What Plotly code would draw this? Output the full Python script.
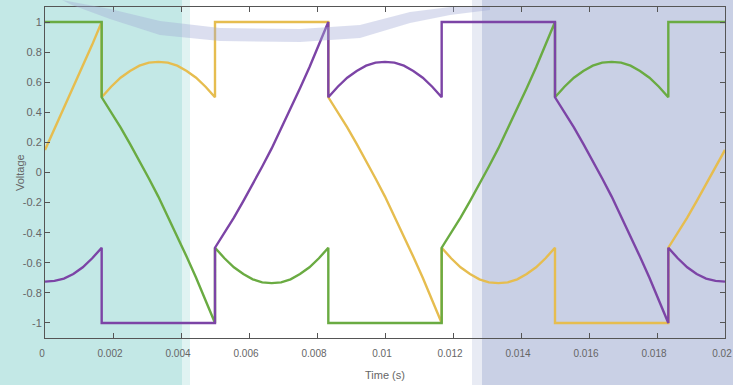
import plotly.graph_objects as go

# Sample times (s); boundary instants repeated so the steps draw as vertical edges
time_s = [0, 0.000278, 0.000556, 0.000833, 0.001111, 0.001389, 0.001667,
          0.001667, 0.001944, 0.002222, 0.0025, 0.002778, 0.003056, 0.003333,
          0.003611, 0.003889, 0.004167, 0.004444, 0.004722, 0.005,
          0.005, 0.005278, 0.005556, 0.005833, 0.006111, 0.006389, 0.006667,
          0.006944, 0.007222, 0.0075, 0.007778, 0.008056, 0.008333,
          0.008333, 0.008611, 0.008889, 0.009167, 0.009444, 0.009722, 0.01,
          0.010278, 0.010556, 0.010833, 0.011111, 0.011389, 0.011667,
          0.011667, 0.011944, 0.012222, 0.0125, 0.012778, 0.013056, 0.013333,
          0.013611, 0.013889, 0.014167, 0.014444, 0.014722, 0.015,
          0.015, 0.015278, 0.015556, 0.015833, 0.016111, 0.016389, 0.016667,
          0.016944, 0.017222, 0.0175, 0.017778, 0.018056, 0.018333,
          0.018333, 0.018611, 0.018889, 0.019167, 0.019444, 0.019722, 0.02]

v_yellow = ([0.15, 0.29, 0.42, 0.56, 0.70, 0.85, 1.00]
            + [0.50, 0.57, 0.63, 0.675, 0.71, 0.73, 0.735, 0.73, 0.71, 0.675, 0.63, 0.57, 0.50]
            + [1, 1, 1, 1, 1, 1, 1, 1, 1, 1, 1, 1, 1]
            + [0.50, 0.40, 0.30, 0.19, 0.08, -0.04, -0.16, -0.29, -0.42, -0.56, -0.70, -0.85, -1.00]
            + [-0.50, -0.57, -0.63, -0.675, -0.71, -0.73, -0.735, -0.73, -0.71, -0.675, -0.63, -0.57, -0.50]
            + [-1, -1, -1, -1, -1, -1, -1, -1, -1, -1, -1, -1, -1]
            + [-0.50, -0.40, -0.30, -0.19, -0.08, 0.04, 0.15])

v_green = ([1, 1, 1, 1, 1, 1, 1]
           + [0.50, 0.40, 0.30, 0.19, 0.08, -0.04, -0.16, -0.29, -0.42, -0.56, -0.70, -0.85, -1.00]
           + [-0.50, -0.57, -0.63, -0.675, -0.71, -0.73, -0.735, -0.73, -0.71, -0.675, -0.63, -0.57, -0.50]
           + [-1, -1, -1, -1, -1, -1, -1, -1, -1, -1, -1, -1, -1]
           + [-0.50, -0.40, -0.30, -0.19, -0.08, 0.04, 0.16, 0.29, 0.42, 0.56, 0.70, 0.85, 1.00]
           + [0.50, 0.57, 0.63, 0.675, 0.71, 0.73, 0.735, 0.73, 0.71, 0.675, 0.63, 0.57, 0.50]
           + [1, 1, 1, 1, 1, 1, 1])

v_purple = ([-0.725, -0.72, -0.705, -0.675, -0.63, -0.57, -0.50]
            + [-1, -1, -1, -1, -1, -1, -1, -1, -1, -1, -1, -1, -1]
            + [-0.50, -0.40, -0.30, -0.19, -0.08, 0.04, 0.16, 0.29, 0.42, 0.56, 0.70, 0.85, 1.00]
            + [0.50, 0.57, 0.63, 0.675, 0.71, 0.73, 0.735, 0.73, 0.71, 0.675, 0.63, 0.57, 0.50]
            + [1, 1, 1, 1, 1, 1, 1, 1, 1, 1, 1, 1, 1]
            + [0.50, 0.40, 0.30, 0.19, 0.08, -0.04, -0.16, -0.29, -0.42, -0.56, -0.70, -0.85, -1.00]
            + [-0.50, -0.57, -0.63, -0.675, -0.705, -0.72, -0.725])

x_ticks = [0, 0.002, 0.004, 0.006, 0.008, 0.01, 0.012, 0.014, 0.016, 0.018, 0.02]
x_tick_text = ["0", "0.002", "0.004", "0.006", "0.008", "0.01", "0.012", "0.014", "0.016", "0.018", "0.02"]
y_ticks = [1, 0.8, 0.6, 0.4, 0.2, 0, -0.2, -0.4, -0.6, -0.8, -1]
y_tick_text = ["1", "0.8", "0.6", "0.4", "0.2", "0", "-0.2", "-0.4", "-0.6", "-0.8", "-1"]

W, H = 733, 385
ML, MR, MT, MB = 45, 8, 7, 47
PW, PH = W - ML - MR, H - MT - MB


def px(x):
    return (x - ML) / PW


def py(y):
    return (H - MB - y) / PH


FONT = "Liberation Sans Narrow, Arial Narrow, Liberation Sans, Arial, sans-serif"
GREY = "#666"

fig = go.Figure()
for vals, col in [(v_yellow, "#e6bd4f"), (v_green, "#6aab42"), (v_purple, "#7c44a6")]:
    fig.add_trace(go.Scatter(x=time_s, y=vals, mode="lines",
                             line=dict(color=col, width=2.4), showlegend=False))

shapes = [
    dict(type="rect", xref="paper", yref="paper", x0=px(0), x1=px(182), y0=py(H), y1=py(0),
         fillcolor="#c3e8e6", line_width=0, layer="below"),
    dict(type="rect", xref="paper", yref="paper", x0=px(182), x1=px(190), y0=py(H), y1=py(0),
         fillcolor="#e0f3f2", line_width=0, layer="below"),
    dict(type="rect", xref="paper", yref="paper", x0=px(472), x1=px(482), y0=py(H), y1=py(0),
         fillcolor="#e8ebf4", line_width=0, layer="below"),
    dict(type="rect", xref="paper", yref="paper", x0=px(482), x1=px(W), y0=py(H), y1=py(0),
         fillcolor="#c9d0e5", line_width=0, layer="below"),
]

# translucent swoosh across the top of the panel
upper = [(62, 0), (110, 9), (160, 21), (220, 28), (300, 29), (360, 25), (410, 12), (450, 7), (490, 7)]
lower = [(490, 10), (450, 15), (410, 23), (360, 38), (300, 42), (220, 41), (160, 35), (110, 19), (72, 5)]
pts = upper + lower
path = "M " + " L ".join(f"{px(a):.4f},{py(b):.4f}" for a, b in pts) + " Z"
shapes.append(dict(type="path", xref="paper", yref="paper", path=path,
                   fillcolor="rgba(160,168,214,0.38)", line_width=0, layer="above"))

fig.update_layout(
    width=W, height=H,
    margin=dict(l=ML, r=MR, t=MT, b=MB, autoexpand=False),
    paper_bgcolor="white", plot_bgcolor="rgba(0,0,0,0)",
    font=dict(family=FONT, size=11, color=GREY),
    shapes=shapes,
    annotations=[
        dict(text="Time (s)", xref="paper", yref="paper", x=px(385), y=py(375),
             xanchor="center", yanchor="middle",
             showarrow=False, font=dict(family=FONT, size=11, color=GREY)),
        dict(text="Voltage", xref="paper", yref="paper", x=px(20), y=py(173),
             xanchor="center", yanchor="middle",
             showarrow=False, textangle=-90, font=dict(family=FONT, size=11, color=GREY)),
    ],
)
fig.update_xaxes(range=[0, 0.02], tickvals=x_ticks, ticktext=x_tick_text,
                 ticks="inside", ticklen=5, tickcolor="#555", showline=True, linecolor="#555",
                 linewidth=1, mirror="ticks", showgrid=False, zeroline=False,
                 tickfont=dict(size=10), ticklabelshift=-3,
                 ticklabelstandoff=6, ticklabeloverflow="allow", automargin=False)
fig.update_yaxes(range=[-1.1, 1.1], tickvals=y_ticks, ticktext=y_tick_text,
                 ticks="inside", ticklen=5, tickcolor="#555", showline=True, linecolor="#555",
                 linewidth=1, mirror="ticks", showgrid=False, zeroline=False, automargin=False)

fig.write_html("out.html")
